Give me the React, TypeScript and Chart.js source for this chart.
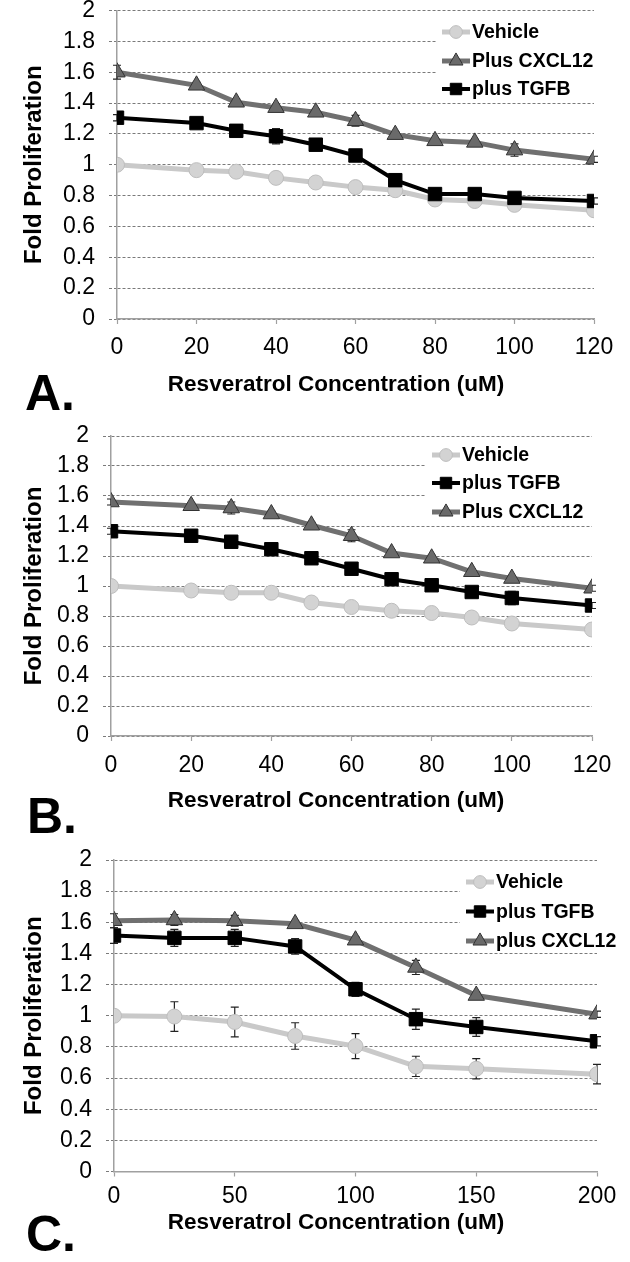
import React, { useEffect, useRef } from 'react';
import { Chart, registerables } from 'chart.js';
import { drawPoint } from 'chart.js/helpers';

Chart.register(...registerables);

const FONT = '"Liberation Sans", Arial, Helvetica, sans-serif';

// ---------- data ----------
const Y_TICK_LABELS = ['0', '0.2', '0.4', '0.6', '0.8', '1', '1.2', '1.4', '1.6', '1.8', '2'];
const X_TITLE = 'Resveratrol Concentration (uM)';
const Y_TITLE = 'Fold Proliferation';

// Panel A
const CONC_A = [0, 20, 30, 40, 50, 60, 70, 80, 90, 100, 120];
const VEHICLE_A = [1.0, 0.965, 0.955, 0.915, 0.885, 0.855, 0.835, 0.775, 0.765, 0.74, 0.705];
const VEHICLE_A_ERR = [0, 0, 0, 0, 0, 0, 0, 0, 0, 0, 0];
const CXCL12_A = [1.6, 1.515, 1.405, 1.37, 1.34, 1.285, 1.195, 1.155, 1.145, 1.095, 1.035];
const CXCL12_A_ERR = [0.045, 0.02, 0.02, 0.02, 0.02, 0.035, 0.02, 0.02, 0.02, 0.04, 0.02];
const TGFB_A = [1.305, 1.27, 1.22, 1.185, 1.13, 1.06, 0.9, 0.81, 0.81, 0.785, 0.765];
const TGFB_A_ERR = [0.02, 0.02, 0.02, 0.05, 0.02, 0.02, 0.02, 0.02, 0.02, 0.02, 0.02];

// Panel B
const CONC_B = [0, 20, 30, 40, 50, 60, 70, 80, 90, 100, 120];
const VEHICLE_B = [1.0, 0.97, 0.955, 0.955, 0.89, 0.86, 0.835, 0.82, 0.79, 0.75, 0.71];
const VEHICLE_B_ERR = [0, 0, 0, 0, 0, 0, 0, 0, 0, 0, 0];
const TGFB_B = [1.365, 1.335, 1.295, 1.245, 1.185, 1.115, 1.045, 1.005, 0.96, 0.92, 0.87];
const TGFB_B_ERR = [0.02, 0.02, 0.02, 0.02, 0.02, 0.02, 0.02, 0.02, 0.02, 0.045, 0.02];
const CXCL12_B = [1.56, 1.535, 1.52, 1.48, 1.405, 1.335, 1.22, 1.185, 1.095, 1.05, 0.985];
const CXCL12_B_ERR = [0.02, 0.02, 0.04, 0.02, 0.02, 0.04, 0.02, 0.02, 0.02, 0.02, 0.02];

// Panel C
const CONC_C = [0, 25, 50, 75, 100, 125, 150, 200];
const VEHICLE_C = [1.0, 0.995, 0.96, 0.87, 0.805, 0.675, 0.66, 0.625];
const VEHICLE_C_ERR = [0.0, 0.095, 0.095, 0.085, 0.08, 0.065, 0.065, 0.063];
const TGFB_C = [1.515, 1.5, 1.5, 1.445, 1.17, 0.978, 0.928, 0.836];
const TGFB_C_ERR = [0.05, 0.055, 0.055, 0.05, 0.045, 0.065, 0.06, 0.03];
const CXCL12_C = [1.61, 1.615, 1.61, 1.59, 1.485, 1.31, 1.13, 1.01];
const CXCL12_C_ERR = [0.045, 0.035, 0.035, 0.02, 0.02, 0.045, 0.02, 0.02];

// ---------- styles ----------
const STYLES: Record<string, any> = {
  vehicle: {
    borderColor: '#c9c9c9', borderWidth: 5, pointStyle: 'circle', pointRadius: 7.5,
    pointBackgroundColor: '#d3d3d3', pointBorderColor: '#bdbdbd', pointBorderWidth: 1, order: 3,
  },
  cxcl12: {
    borderColor: '#707070', borderWidth: 5, pointStyle: 'triangle', pointRadius: 9.5,
    pointBackgroundColor: '#6a6a6a', pointBorderColor: '#333333', pointBorderWidth: 1, order: 2,
  },
  tgfb: {
    borderColor: '#000000', borderWidth: 4, pointStyle: 'rect', pointRadius: 9.5,
    pointBackgroundColor: '#000000', pointBorderColor: '#000000', pointBorderWidth: 1, order: 1,
  },
};

type Series = { label: string; values: number[]; err: number[]; style: string };
type PanelCfg = {
  letter: string; height: number; conc: number[]; xMax: number; xStep: number;
  series: Series[];
  geo: {
    top: number; bottom: number; left: number; right: number;
    tickCenter: number; titleCenter: number; titleCenterX: number;
    letterX: number; letterY: number;
    legendBox: [number, number, number, number]; legendRows: number[];
    sampleX0: number; sampleX1: number; textX: number;
  };
};

const PANELS: PanelCfg[] = [
  {
    letter: 'A.', height: 420, conc: CONC_A, xMax: 120, xStep: 20,
    series: [
      { label: 'Vehicle', values: VEHICLE_A, err: VEHICLE_A_ERR, style: 'vehicle' },
      { label: 'Plus CXCL12', values: CXCL12_A, err: CXCL12_A_ERR, style: 'cxcl12' },
      { label: 'plus TGFB', values: TGFB_A, err: TGFB_A_ERR, style: 'tgfb' },
    ],
    geo: {
      top: 10, bottom: 319, left: 117, right: 594, tickCenter: 29, titleCenter: 66, titleCenterX: 336,
      letterX: 25, letterY: 410,
      legendBox: [437, 15, 160, 84], legendRows: [32, 61, 89],
      sampleX0: 442, sampleX1: 470, textX: 472,
    },
  },
  {
    letter: 'B.', height: 420, conc: CONC_B, xMax: 120, xStep: 20,
    series: [
      { label: 'Vehicle', values: VEHICLE_B, err: VEHICLE_B_ERR, style: 'vehicle' },
      { label: 'plus TGFB', values: TGFB_B, err: TGFB_B_ERR, style: 'tgfb' },
      { label: 'Plus CXCL12', values: CXCL12_B, err: CXCL12_B_ERR, style: 'cxcl12' },
    ],
    geo: {
      top: 16, bottom: 316, left: 111, right: 592, tickCenter: 30, titleCenter: 64.5, titleCenterX: 336,
      letterX: 27, letterY: 413,
      legendBox: [425, 21, 170, 83], legendRows: [35, 63, 92],
      sampleX0: 432, sampleX1: 460, textX: 462,
    },
  },
  {
    letter: 'C.', height: 422, conc: CONC_C, xMax: 200, xStep: 50,
    series: [
      { label: 'Vehicle', values: VEHICLE_C, err: VEHICLE_C_ERR, style: 'vehicle' },
      { label: 'plus TGFB', values: TGFB_C, err: TGFB_C_ERR, style: 'tgfb' },
      { label: 'plus CXCL12', values: CXCL12_C, err: CXCL12_C_ERR, style: 'cxcl12' },
    ],
    geo: {
      top: 20, bottom: 331.5, left: 114, right: 597, tickCenter: 25.5, titleCenter: 51, titleCenterX: 336,
      letterX: 26, letterY: 411,
      legendBox: [460, 25, 170, 86], legendRows: [42, 71.5, 101],
      sampleX0: 466, sampleX1: 494, textX: 496,
    },
  },
];

// ---------- plugins ----------
const legendBoxPlugin = {
  id: 'legendBox',
  beforeDatasetsDraw(chart: any, _args: any, opts: any) {
    if (!opts || !opts.box) return;
    const ctx = chart.ctx;
    const b = opts.box;
    ctx.save();
    ctx.fillStyle = '#ffffff';
    ctx.fillRect(b[0], b[1], b[2], b[3]);
    ctx.restore();
  },
  afterDraw(chart: any, _args: any, opts: any) {
    if (!opts || !opts.rows) return;
    const ctx = chart.ctx;
    chart.data.datasets.forEach((ds: any, i: number) => {
      const y = opts.rows[i];
      ctx.save();
      ctx.strokeStyle = ds.borderColor;
      ctx.lineWidth = ds.borderWidth;
      ctx.beginPath();
      ctx.moveTo(opts.x0, y);
      ctx.lineTo(opts.x1, y);
      ctx.stroke();
      ctx.fillStyle = ds.pointBackgroundColor;
      ctx.strokeStyle = ds.pointBorderColor;
      ctx.lineWidth = ds.pointBorderWidth;
      drawPoint(ctx, {
        pointStyle: ds.pointStyle, rotation: 0,
        radius: ds.pointRadius * 0.85, borderWidth: ds.pointBorderWidth,
      } as any, (opts.x0 + opts.x1) / 2, y);
      ctx.fillStyle = '#000000';
      ctx.font = `bold 19.5px ${FONT}`;
      ctx.textAlign = 'left';
      ctx.textBaseline = 'middle';
      ctx.fillText(ds.label, opts.textX, y + 1);
      ctx.restore();
    });
  },
};

const errorBarPlugin = {
  id: 'errorBars',
  beforeDatasetsDraw(chart: any) {
    const ctx = chart.ctx;
    const xs = chart.scales.x;
    const ys = chart.scales.y;
    chart.data.datasets.forEach((ds: any) => {
      if (!ds.errorBars) return;
      ctx.save();
      ctx.strokeStyle = '#222222';
      ctx.lineWidth = 1.2;
      ds.data.forEach((p: any, j: number) => {
        const e = ds.errorBars[j];
        if (!e) return;
        const px = xs.getPixelForValue(p.x);
        const yt = ys.getPixelForValue(p.y + e);
        const yb = ys.getPixelForValue(p.y - e);
        ctx.beginPath();
        ctx.moveTo(px, yt); ctx.lineTo(px, yb);
        ctx.moveTo(px - 4, yt); ctx.lineTo(px + 4, yt);
        ctx.moveTo(px - 4, yb); ctx.lineTo(px + 4, yb);
        ctx.stroke();
      });
      ctx.restore();
    });
  },
};

// panel letter and the x-axis title (placed slightly left of the plot centre, as in the original)
const panelTextPlugin = {
  id: 'panelText',
  afterDraw(chart: any, _args: any, opts: any) {
    if (!opts || !opts.letter) return;
    const ctx = chart.ctx;
    ctx.save();
    ctx.fillStyle = '#000000';
    ctx.font = `bold 22.5px ${FONT}`;
    ctx.textAlign = 'center';
    ctx.textBaseline = 'middle';
    ctx.fillText(opts.xTitle, opts.xTitleX, chart.chartArea.bottom + opts.xTitleDy);
    ctx.font = `bold 50px ${FONT}`;
    ctx.textAlign = 'left';
    ctx.textBaseline = 'alphabetic';
    ctx.fillText(opts.letter, opts.x, opts.y);
    ctx.restore();
  },
};

// ---------- chart ----------
function buildConfig(p: PanelCfg): any {
  const g = p.geo;
  const W = 630;
  const TICK_FONT = 23;
  const xScaleHeight = g.titleCenter + 14;
  const padBottom = p.height - g.bottom - xScaleHeight;
  const tickPad = g.tickCenter - 5 - (TICK_FONT * 1.2) / 2;

  return {
    type: 'line',
    data: {
      datasets: p.series.map((s) => ({
        label: s.label,
        data: p.conc.map((c, i) => ({ x: c, y: s.values[i] })),
        errorBars: s.err,
        tension: 0,
        ...STYLES[s.style],
      })),
    },
    options: {
      animation: false,
      responsive: true,
      maintainAspectRatio: false,
      layout: { padding: { top: g.top, right: W - g.right, bottom: padBottom, left: 0 } },
      plugins: {
        legend: { display: false },
        tooltip: { enabled: false },
        legendBox: {
          box: g.legendBox, rows: g.legendRows, x0: g.sampleX0, x1: g.sampleX1, textX: g.textX,
        },
        panelText: {
          letter: p.letter, x: g.letterX, y: g.letterY,
          xTitle: X_TITLE, xTitleX: g.titleCenterX, xTitleDy: g.titleCenter,
        },
      },
      scales: {
        x: {
          type: 'linear',
          min: 0,
          max: p.xMax,
          afterFit: (s: any) => {
            s.height = xScaleHeight;
            s.paddingLeft = 0;
            s.paddingRight = 0;
          },
          ticks: {
            stepSize: p.xStep,
            autoSkip: false,
            maxRotation: 0,
            padding: tickPad,
            color: '#000000',
            font: { family: FONT, size: TICK_FONT },
          },
          grid: {
            display: true,
            drawOnChartArea: false,
            drawTicks: true,
            tickLength: 5,
            color: '#a0a0a0',
            tickColor: '#a0a0a0',
            tickWidth: 1.2,
          },
          border: { display: true, color: '#a0a0a0', width: 1.5 },
          title: { display: false, text: X_TITLE },
        },
        y: {
          type: 'linear',
          min: 0,
          max: 2,
          afterFit: (s: any) => {
            s.width = g.left;
            s.paddingTop = 0;
            s.paddingBottom = 0;
          },
          ticks: {
            stepSize: 0.2,
            autoSkip: false,
            padding: 14,
            color: '#000000',
            font: { family: FONT, size: TICK_FONT },
            callback: (_v: any, i: number) => Y_TICK_LABELS[i],
          },
          grid: {
            display: true,
            drawOnChartArea: true,
            color: '#7a7a7a',
            lineWidth: 1,
            drawTicks: true,
            tickLength: 8,
            tickBorderDash: [3, 2],
            tickColor: '#7a7a7a',
            tickWidth: 1,
          },
          border: { display: true, color: '#a0a0a0', width: 1.5, dash: [3, 2] },
          title: {
            display: true,
            text: Y_TITLE,
            color: '#000000',
            padding: { top: 19.6, bottom: 0 },
            font: { family: FONT, size: 24, weight: 'bold' },
          },
        },
      },
    },
    plugins: [legendBoxPlugin, errorBarPlugin, panelTextPlugin],
  };
}

function PanelChart({ panel }: { panel: PanelCfg }) {
  const ref = useRef<HTMLCanvasElement | null>(null);
  useEffect(() => {
    if (!ref.current) return;
    const chart = new Chart(ref.current, buildConfig(panel));
    return () => chart.destroy();
  }, [panel]);
  return (
    <div style={{ position: 'relative', width: 630, height: panel.height }}>
      <canvas ref={ref} />
    </div>
  );
}

export default function App() {
  return (
    <div style={{ position: 'absolute', top: 0, left: 0, width: 630, height: 1262, background: '#ffffff', overflow: 'hidden' }}>
      {PANELS.map((p) => (
        <PanelChart key={p.letter} panel={p} />
      ))}
    </div>
  );
}
